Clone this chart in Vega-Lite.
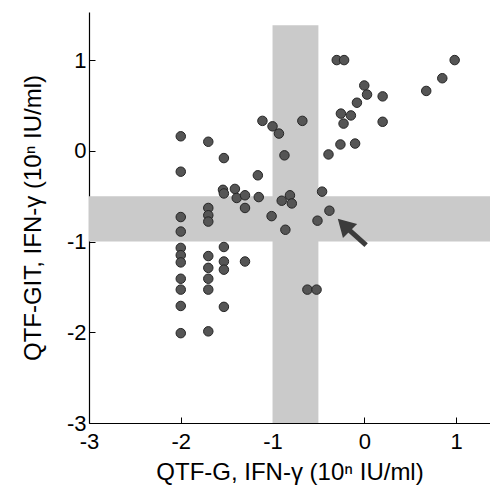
{
  "$schema": "https://vega.github.io/schema/vega-lite/v6.json",
  "width": 401,
  "height": 411,
  "autosize": {"type": "none"},
  "padding": {"left": 89, "top": 12, "right": 0, "bottom": 67},
  "background": "white",
  "config": {
    "view": {"stroke": null},
    "font": "Liberation Sans",
    "axis": {
      "grid": false,
      "domainColor": "#000000",
      "domainWidth": 1.2,
      "tickColor": "#000000",
      "tickSize": -6,
      "tickWidth": 1,
      "labelFont": "Liberation Sans",
      "labelFontSize": 22,
      "labelColor": "#000000",
      "titleFont": "Liberation Sans",
      "titleFontSize": 24,
      "titleFontWeight": "normal",
      "titleColor": "#000000",
      "labelOverlap": false,
      "labelBound": false,
      "labelFlush": false,
      "labelExpr": "'' + datum.value"
    }
  },
  "datasets": {
    "bands": [
      {"x1": -1.0, "x2": -0.5, "y1": -3.0, "y2": 1.385},
      {"x1": -3.0, "x2": 1.37, "y1": -1.0, "y2": -0.5}
    ],
    "points": [
      {"x": -0.30, "y": 1.00}, {"x": -0.22, "y": 1.00}, {"x": 0.985, "y": 1.00},
      {"x": 0.85, "y": 0.80}, {"x": 0.675, "y": 0.66}, {"x": 0.00, "y": 0.72},
      {"x": 0.03, "y": 0.62}, {"x": 0.20, "y": 0.60}, {"x": -0.08, "y": 0.53},
      {"x": -0.255, "y": 0.41}, {"x": -0.146, "y": 0.39}, {"x": -0.226, "y": 0.30},
      {"x": 0.20, "y": 0.32}, {"x": -1.11, "y": 0.33}, {"x": -1.00, "y": 0.27},
      {"x": -0.93, "y": 0.19}, {"x": -0.675, "y": 0.33}, {"x": -2.00, "y": 0.16},
      {"x": -1.70, "y": 0.10}, {"x": -0.26, "y": 0.07}, {"x": -0.10, "y": 0.08},
      {"x": -0.39, "y": -0.04}, {"x": -0.87, "y": -0.05}, {"x": -1.53, "y": -0.08},
      {"x": -2.00, "y": -0.23}, {"x": -1.16, "y": -0.27},
      {"x": -1.54, "y": -0.43}, {"x": -1.53, "y": -0.47}, {"x": -1.41, "y": -0.42},
      {"x": -1.39, "y": -0.52}, {"x": -1.30, "y": -0.49}, {"x": -1.15, "y": -0.51},
      {"x": -1.30, "y": -0.63}, {"x": -0.46, "y": -0.45}, {"x": -0.90, "y": -0.55},
      {"x": -0.81, "y": -0.49}, {"x": -0.79, "y": -0.58}, {"x": -0.38, "y": -0.66},
      {"x": -1.01, "y": -0.72}, {"x": -0.51, "y": -0.77}, {"x": -0.86, "y": -0.87},
      {"x": -1.70, "y": -0.63}, {"x": -1.70, "y": -0.71}, {"x": -1.70, "y": -0.78},
      {"x": -2.00, "y": -0.73}, {"x": -2.00, "y": -0.89},
      {"x": -2.00, "y": -1.07}, {"x": -2.00, "y": -1.15}, {"x": -2.00, "y": -1.23},
      {"x": -2.00, "y": -1.41}, {"x": -2.00, "y": -1.53}, {"x": -2.00, "y": -1.71},
      {"x": -2.00, "y": -2.01},
      {"x": -1.70, "y": -1.16}, {"x": -1.70, "y": -1.29}, {"x": -1.70, "y": -1.41},
      {"x": -1.70, "y": -1.53}, {"x": -1.70, "y": -1.99},
      {"x": -1.53, "y": -1.06}, {"x": -1.53, "y": -1.22}, {"x": -1.53, "y": -1.31},
      {"x": -1.53, "y": -1.72},
      {"x": -1.30, "y": -1.22},
      {"x": -0.62, "y": -1.53}, {"x": -0.52, "y": -1.53}
    ],
    "arrow": [
      {"x": 0.02, "y": -1.04, "x2": -0.20, "y2": -0.84}
    ],
    "arrowhead": [
      {"x": -0.222, "y": -0.816}
    ]
  },
  "layer": [
    {
      "data": {"name": "bands"},
      "mark": {"type": "rect", "color": "#cacaca", "opacity": 1},
      "encoding": {
        "x": {"field": "x1", "type": "quantitative", "scale": {"domain": [-3, 1.37], "nice": false, "zero": false},
          "axis": {"values": [-3, -2, -1, 0, 1], "title": "QTF-G, IFN-γ (10ⁿ IU/ml)", "labelPadding": 14, "titlePadding": 8}},
        "x2": {"field": "x2"},
        "y": {"field": "y1", "type": "quantitative", "scale": {"domain": [-3, 1.53], "nice": false, "zero": false},
          "axis": {"values": [-3, -2, -1, 0, 1], "title": "QTF-GIT, IFN-γ (10ⁿ IU/ml)", "labelPadding": 9, "titlePadding": 21}},
        "y2": {"field": "y2"}
      }
    },
    {
      "data": {"name": "points"},
      "mark": {"type": "point", "shape": "circle", "filled": true, "fill": "#555555", "stroke": "#262626", "strokeWidth": 1, "size": 90, "opacity": 1},
      "encoding": {
        "x": {"field": "x", "type": "quantitative"},
        "y": {"field": "y", "type": "quantitative"}
      }
    },
    {
      "data": {"name": "arrow"},
      "mark": {"type": "rule", "color": "#3c3c3c", "strokeWidth": 5},
      "encoding": {
        "x": {"field": "x", "type": "quantitative"},
        "y": {"field": "y", "type": "quantitative"},
        "x2": {"field": "x2"},
        "y2": {"field": "y2"}
      }
    },
    {
      "data": {"name": "arrowhead"},
      "mark": {"type": "point", "shape": "triangle-up", "filled": true, "color": "#3c3c3c", "size": 400, "angle": 315, "opacity": 1},
      "encoding": {
        "x": {"field": "x", "type": "quantitative"},
        "y": {"field": "y", "type": "quantitative"}
      }
    }
  ]
}
